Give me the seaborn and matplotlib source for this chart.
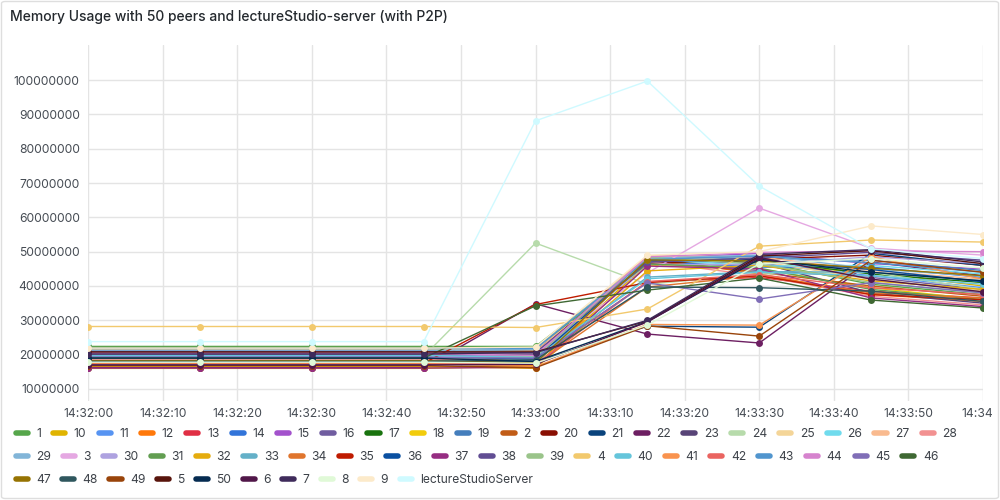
import matplotlib
matplotlib.use("Agg")
import numpy as np
import pandas as pd
import seaborn as sns
import matplotlib.pyplot as plt
import matplotlib.transforms as mtransforms
from matplotlib.lines import Line2D
from matplotlib.patches import FancyBboxPatch

# ---------------- data ----------------
title = "Memory Usage with 50 peers and lectureStudio-server (with P2P)"

series_names = ['1', '10', '11', '12', '13', '14', '15', '16', '17', '18', '19',
                '2', '20', '21', '22', '23', '24', '25', '26', '27', '28',
                '29', '3', '30', '31', '32', '33', '34', '35', '36', '37', '38', '39',
                '4', '40', '41', '42', '43', '44', '45', '46',
                '47', '48', '49', '5', '50', '6', '7', '8', '9', 'lectureStudioServer']

series_colors = ['#56A64B', '#E0B400', '#5794F2', '#FF780A', '#E02F44', '#3274D9', '#A352CC',
                 '#705DA0', '#19730E', '#F2CC0C', '#447EBC', '#C15C17', '#890F02', '#0A437C',
                 '#6D1F62', '#584477', '#B7DBAB', '#F4D598', '#70DBED', '#F9BA8F', '#F29191',
                 '#82B5D8', '#E5A8E2', '#AEA2E0', '#629E51', '#E5AC0E', '#64B0C8', '#E0752D',
                 '#BF1B00', '#0A50A1', '#962D82', '#614D93', '#9AC48A', '#F2C96D', '#65C5DB',
                 '#F9934E', '#EA6460', '#5195CE', '#D683CE', '#806EB7', '#3F6833', '#967302',
                 '#2F575E', '#99440A', '#58140C', '#052B51', '#511749', '#3F2B5B', '#E0F9D7',
                 '#FCEACA', '#CFFAFF']

sample_times = ["14:32:00", "14:32:15", "14:32:30", "14:32:45", "14:33:00",
                "14:33:15", "14:33:30", "14:33:45", "14:34:00"]

# memory in MB (1e6 bytes), one list per sample time, in series_names order
# 14:32:00 .. 14:32:45 were flat at the same value
mem_plateau = [22.4, 16.4, 17.2, 17.9, 18.8, 17.0, 19.8, 19.6, 20.4, 16.0, 21.4,
               18.4, 20.6, 18.3, 16.2, 20.0, 19.5, 21.6, 17.6, 21.0, 18.6,
               21.2, 20.5, 19.4, 22.2, 16.6, 18.0, 17.4, 17.5, 19.2, 16.1, 20.9, 18.9,
               28.2, 19.8, 17.5, 17.7, 21.8, 20.3, 19.2, 19.0,
               18.2, 18.0, 16.8, 20.8, 19.0, 17.0, 20.2, 17.8, 21.9, 23.8]
mem_14_33_00 = [22.4, 16.8, 17.5, 16.5, 18.5, 18.2, 20.0, 20.4, 19.8, 16.6, 21.2,
                18.8, 21.0, 17.8, 34.8, 20.2, 52.5, 21.4, 17.8, 20.8, 19.2,
                21.6, 20.5, 19.6, 22.0, 16.0, 18.6, 17.0, 34.6, 18.8, 16.3, 20.6, 19.4,
                27.9, 19.2, 16.5, 17.2, 21.8, 19.8, 19.0, 34.2,
                17.6, 18.5, 16.2, 20.8, 18.0, 17.2, 20.6, 17.5, 22.2, 88.1]
mem_14_33_15 = [47.5, 46.5, 47.8, 48.2, 41.2, 47.2, 48.0, 47.0, 46.8, 46.0, 48.4,
                47.4, 46.6, 28.3, 26.0, 47.6, 40.5, 48.6, 47.9, 48.8, 47.1,
                48.1, 43.8, 46.3, 46.4, 44.4, 42.6, 39.7, 41.0, 47.3, 45.8, 46.9, 48.3,
                33.3, 42.1, 28.8, 41.3, 47.7, 48.5, 40.9, 38.8,
                47.6, 39.7, 28.4, 29.8, 29.6, 29.5, 30.0, 28.6, 49.0, 99.7]
mem_14_33_30 = [47.0, 46.0, 46.5, 43.5, 42.5, 45.5, 49.5, 44.5, 47.5, 45.0, 48.0,
                44.0, 47.8, 28.0, 23.4, 46.8, 43.5, 47.2, 45.8, 48.5, 43.0,
                49.0, 62.7, 46.2, 45.2, 46.0, 44.2, 43.0, 43.0, 47.6, 45.0, 48.2, 46.4,
                51.6, 44.0, 28.6, 43.3, 48.7, 49.8, 36.2, 42.3,
                47.3, 39.5, 25.4, 48.7, 47.8, 48.3, 49.2, 46.4, 50.0, 69.1]
mem_14_33_45 = [40.5, 44.0, 43.0, 37.5, 38.5, 45.5, 46.5, 42.5, 43.5, 39.5, 47.5,
                40.0, 49.0, 49.5, 47.0, 38.0, 44.0, 42.0, 46.0, 44.5, 37.0,
                45.0, 51.0, 48.5, 39.0, 41.5, 44.0, 38.0, 37.5, 44.8, 36.5, 49.8, 41.0,
                53.4, 43.0, 48.5, 39.5, 46.8, 50.2, 41.0, 35.9,
                45.2, 38.5, 47.5, 50.3, 44.0, 42.0, 50.6, 48.0, 57.5, 50.8]
mem_14_34_00 = [37.5, 40.0, 39.5, 35.5, 36.5, 42.5, 45.0, 39.0, 41.0, 36.0, 44.5,
                37.0, 46.0, 46.0, 43.0, 35.0, 39.0, 38.5, 43.5, 42.0, 34.5,
                42.8, 49.0, 46.5, 36.0, 39.0, 41.5, 36.5, 36.0, 41.2, 34.0, 47.5, 38.0,
                52.8, 40.5, 42.0, 37.5, 44.0, 50.0, 38.0, 33.6,
                43.0, 35.5, 44.0, 46.5, 41.5, 38.3, 47.0, 45.2, 55.0, 48.0]

columns = [mem_plateau, mem_plateau, mem_plateau, mem_plateau, mem_14_33_00,
           mem_14_33_15, mem_14_33_30, mem_14_33_45, mem_14_34_00]

x_tick_labels = ["14:32:00", "14:32:10", "14:32:20", "14:32:30", "14:32:40", "14:32:50",
                 "14:33:00", "14:33:10", "14:33:20", "14:33:30", "14:33:40", "14:33:50", "14:34"]
y_ticks_mb = [10, 20, 30, 40, 50, 60, 70, 80, 90, 100]

# ---------------- build table ----------------
rows = []
for t, col in zip(sample_times, columns):
    ts = pd.Timestamp("2024-01-01 " + t)
    for name, v in zip(series_names, col):
        rows.append((ts, name, v * 1_000_000))
df = pd.DataFrame(rows, columns=["time", "series", "bytes"])
palette = dict(zip(series_names, series_colors))

# ---------------- figure ----------------
sns.set_theme(style="white")
plt.rcParams["font.family"] = ["Inter", "DejaVu Sans"]

fig = plt.figure(figsize=(10, 5), dpi=100)
fig.patch.set_facecolor("white")
ax = fig.add_axes([0.088, 1 - 401 / 500, 0.895, (401 - 45) / 500])

sns.lineplot(data=df, x="time", y="bytes", hue="series", hue_order=series_names,
             palette=palette, marker="o", markersize=5, markeredgewidth=0,
             linewidth=1, estimator=None, sort=True, legend=False, ax=ax)

t0 = pd.Timestamp("2024-01-01 14:32:00")
t1 = pd.Timestamp("2024-01-01 14:34:00")
ax.set_xlim(t0, t1)
ax.set_ylim(6.5e6, 110.2e6)
xt = pd.date_range(t0, t1, freq="10s")
ax.set_xticks(xt)
ax.set_xticklabels(x_tick_labels)
ax.set_yticks([v * 1_000_000 for v in y_ticks_mb])
ax.set_yticklabels([str(v * 1_000_000) for v in y_ticks_mb])
ax.set_xlabel("")
ax.set_ylabel("")
ax.grid(True, color="#e4e4e4", linewidth=1)
ax.set_axisbelow(True)
for s in ax.spines.values():
    s.set_visible(False)
ax.tick_params(axis="both", length=0, labelsize=8.7, colors="#464c54")
ax.tick_params(axis="y", pad=6)
ax.tick_params(axis="x", pad=5)
# keep the last time label inside the panel
last = ax.get_xticklabels()[-1]
last.set_transform(last.get_transform() + mtransforms.ScaledTranslation(-6 / 100, 0, fig.dpi_scale_trans))

fig.text(0.010, 1 - 17 / 500, title, fontsize=10, va="center", ha="left",
         color="#24292e", fontweight="medium")

legend_rows = [series_names[0:21], series_names[21:41], series_names[41:]]
row_spacing = [1.02, 1.0, 0.94]
for i, row in enumerate(legend_rows):
    handles = [Line2D([0], [0], color=palette[n], lw=4, solid_capstyle="round") for n in row]
    fig.legend(handles, row, loc="center left",
               bbox_to_anchor=(0.0155, 1 - (434 + 23 * i) / 500),
               ncol=len(row), frameon=False, fontsize=8.7,
               handlelength=1.0, handletextpad=0.7, columnspacing=row_spacing[i],
               borderpad=0, borderaxespad=0, labelcolor="#3d4249")

fig.patches.append(FancyBboxPatch((0.0015, 0.003), 0.997, 0.994,
                                  boxstyle="round,pad=0,rounding_size=0.004",
                                  transform=fig.transFigure, fill=False,
                                  ec="#dedede", lw=1))

fig.savefig("out.png", dpi=100)
